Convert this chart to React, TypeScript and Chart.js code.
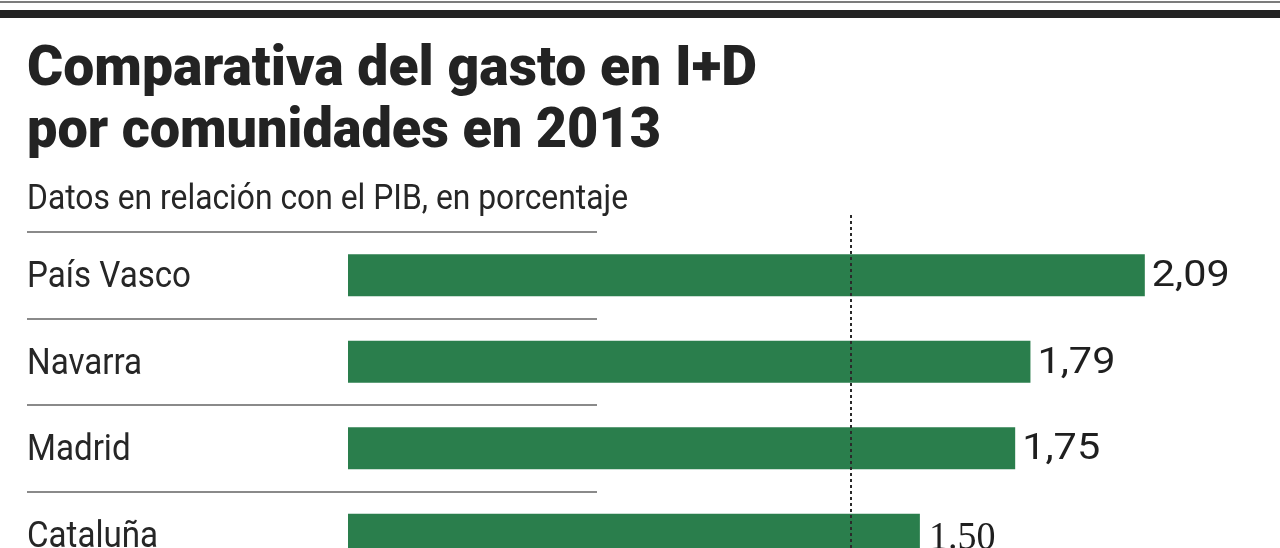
import React, { useEffect, useRef } from 'react';
import { Chart, registerables } from 'chart.js';

Chart.register(...registerables);

const categories = ['País Vasco', 'Navarra', 'Madrid', 'Cataluña'];
const values = [2.09, 1.79, 1.75, 1.5];
const valueLabels = ['2,09', '1,79', '1,75', '1.50'];
const referenceValue = [1.32];
const titleLines = ['Comparativa del gasto en I+D', 'por comunidades en 2013'];
const subtitle = 'Datos en relación con el PIB, en porcentaje';

const W = 1280;
const H = 580;
const INK = '#232323';
const BAR = '#2a7e4c';

function drawScaled(ctx: CanvasRenderingContext2D, text: string, x: number, y: number, font: string, sx: number) {
  ctx.save();
  ctx.font = font;
  ctx.translate(x, y);
  ctx.scale(sx, 1);
  ctx.fillText(text, 0, 0);
  ctx.restore();
}

function widthOf(ctx: CanvasRenderingContext2D, text: string, font: string) {
  ctx.save();
  ctx.font = font;
  const w = ctx.measureText(text).width;
  ctx.restore();
  return w;
}

const decorPlugin = {
  id: 'decor',
  beforeDatasetsDraw(chart: any) {
    const ctx: CanvasRenderingContext2D = chart.ctx;
    const ys = chart.scales.y;
    ctx.save();
    ctx.textAlign = 'left';
    ctx.textBaseline = 'alphabetic';
    // top rules
    ctx.fillStyle = '#7c7c7c';
    ctx.fillRect(0, 1, W, 2);
    ctx.fillStyle = INK;
    ctx.fillRect(0, 10, W, 8);
    // title
    const tFont = '900 56px Roboto, "DejaVu Sans", sans-serif';
    ctx.fillStyle = INK;
    drawScaled(ctx, titleLines[0], 27, 85, tFont, 730 / widthOf(ctx, titleLines[0], tFont));
    drawScaled(ctx, titleLines[1], 27, 147, tFont, 634 / widthOf(ctx, titleLines[1], tFont));
    // subtitle
    const sFont = '400 35px Roboto, "Noto Sans", sans-serif';
    ctx.fillStyle = '#262626';
    drawScaled(ctx, subtitle, 27, 209, sFont, 601 / widthOf(ctx, subtitle, sFont));
    // separators and row labels
    const band = ys.getPixelForValue(1) - ys.getPixelForValue(0);
    const lFont = '400 36px Roboto, "Noto Sans", sans-serif';
    const lsx = 164 / widthOf(ctx, categories[0], lFont);
    categories.forEach((label, i) => {
      const c = ys.getPixelForValue(i);
      ctx.fillStyle = '#8a8a8a';
      ctx.fillRect(27, Math.round(c - band / 2) - 1, 570, 2);
      ctx.fillStyle = '#262626';
      drawScaled(ctx, label, 27, c + 12, lFont, lsx);
    });
    ctx.restore();
  },
  afterDatasetsDraw(chart: any) {
    const ctx: CanvasRenderingContext2D = chart.ctx;
    const xs = chart.scales.x;
    const ys = chart.scales.y;
    ctx.save();
    // reference dashed line
    const rx = Math.round(xs.getPixelForValue(referenceValue[0]));
    ctx.strokeStyle = '#2a2a2a';
    ctx.lineWidth = 2;
    ctx.setLineDash([3, 3]);
    ctx.beginPath();
    ctx.moveTo(rx, 215);
    ctx.lineTo(rx, H);
    ctx.stroke();
    ctx.setLineDash([]);
    // value labels
    ctx.textAlign = 'left';
    ctx.textBaseline = 'alphabetic';
    const vFont = '400 36px Roboto, "Noto Sans", sans-serif';
    const vsx = 78 / widthOf(ctx, valueLabels[0], vFont);
    const serifFont = '40px "Liberation Serif", serif';
    values.forEach((v, i) => {
      const end = xs.getPixelForValue(v);
      const c = ys.getPixelForValue(i);
      const label = valueLabels[i];
      ctx.fillStyle = '#1f1f1f';
      if (label.includes('.')) {
        drawScaled(ctx, label, end + 9, c + 14, serifFont, 0.95);
      } else {
        drawScaled(ctx, label, end + 7, c + 11, vFont, vsx);
      }
    });
    ctx.restore();
  },
};

export default function App() {
  const ref = useRef<HTMLCanvasElement>(null);
  useEffect(() => {
    if (!ref.current) return;
    const chart = new Chart(ref.current, {
      type: 'bar',
      data: {
        labels: categories,
        datasets: [
          {
            data: values,
            backgroundColor: BAR,
            borderWidth: 0,
            barPercentage: 0.486,
            categoryPercentage: 1,
          },
        ],
      },
      options: {
        indexAxis: 'y',
        responsive: false,
        animation: false,
        devicePixelRatio: 1,
        layout: { padding: { left: 348, right: 17, top: 232, bottom: 2 } },
        plugins: { legend: { display: false }, tooltip: { enabled: false }, title: { display: false } },
        scales: {
          x: { type: 'linear', min: 0, max: 2.4, display: false },
          y: { type: 'category', display: false, offset: true },
        },
      },
      plugins: [decorPlugin],
    });
    return () => chart.destroy();
  }, []);
  return (
    <div style={{ position: 'absolute', left: 0, top: 0, width: W, height: 548, overflow: 'hidden', background: '#fff' }}>
      <canvas ref={ref} width={W} height={H} style={{ display: 'block', width: W, height: H }} />
    </div>
  );
}
